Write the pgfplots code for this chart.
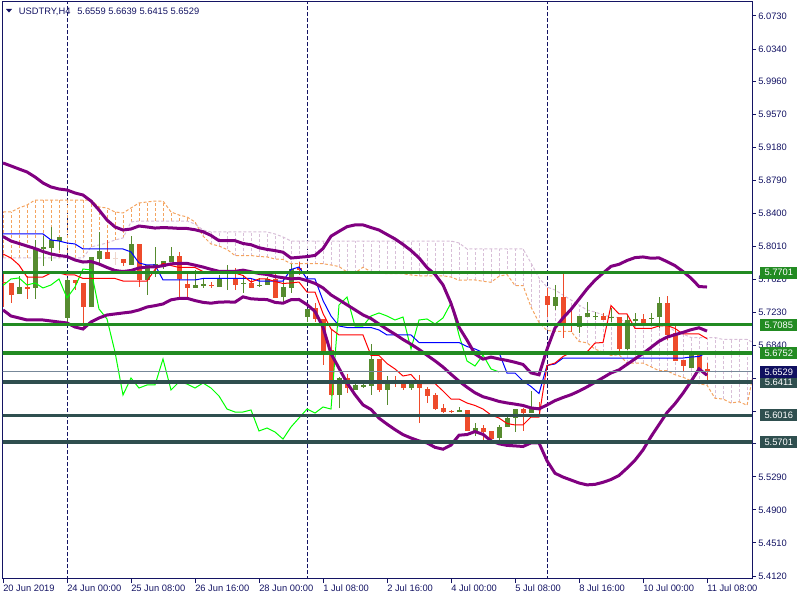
\documentclass[border=0pt]{standalone}
\usepackage{fontspec}
\setmainfont{Liberation Sans}
\usepackage{pgfplots}
\usepackage{pgfplotstable}
\pgfplotsset{compat=1.18}

\definecolor{axisC}{RGB}{20,20,100}
\definecolor{bullC}{RGB}{86,139,47}
\definecolor{bearC}{RGB}{238,75,43}
\definecolor{dojiC}{RGB}{238,214,204}
\definecolor{bbC}{RGB}{128,0,128}
\definecolor{chikouC}{RGB}{0,255,0}
\definecolor{sandyC}{RGB}{244,164,96}
\definecolor{thistleC}{RGB}{216,191,216}
\definecolor{fgreenC}{RGB}{34,139,34}
\definecolor{slateC}{RGB}{47,79,79}
\definecolor{plineC}{RGB}{119,136,153}
\definecolor{pboxC}{RGB}{16,16,96}

% H4 candles: bar index, k (1 up, -1 down, 0 doji), open high low close
\pgfplotstableread{
i k o h l c
0 -1 5.7590 5.7708 5.7295 5.7579
1 -1 5.7579 5.7579 5.7343 5.7437
2 1 5.7449 5.7661 5.7449 5.7531
3 -1 5.7531 5.7661 5.7390 5.7508
4 1 5.7520 5.8086 5.7390 5.7980
5 1 5.7980 5.8133 5.7779 5.8004
6 1 5.7992 5.8240 5.7838 5.8086
7 1 5.8074 5.8122 5.7968 5.8122
8 1 5.7166 5.7638 5.7107 5.7614
9 -1 5.7614 5.7614 5.7496 5.7579
10 -1 5.7579 5.7579 5.7024 5.7295
11 1 5.7295 5.7886 5.7295 5.7886
12 1 5.7862 5.8181 5.7779 5.7956
13 -1 5.7945 5.8086 5.7862 5.7862
14 0 5.7874 5.7945 5.7791 5.7870
15 -1 5.7862 5.7862 5.7779 5.7815
16 1 5.7791 5.8133 5.7791 5.8039
17 -1 5.8039 5.8039 5.7531 5.7614
18 1 5.7614 5.7791 5.7437 5.7791
19 1 5.7779 5.8004 5.7649 5.7803
20 1 5.7767 5.7838 5.7744 5.7838
21 1 5.7827 5.8004 5.7827 5.7897
22 -1 5.7897 5.7945 5.7390 5.7626
23 -1 5.7567 5.7685 5.7390 5.7520
24 1 5.7520 5.7732 5.7520 5.7555
25 1 5.7543 5.7626 5.7520 5.7567
26 -1 5.7555 5.7590 5.7520 5.7549
27 1 5.7531 5.7673 5.7531 5.7626
28 1 5.7626 5.7791 5.7496 5.7638
29 -1 5.7626 5.7756 5.7496 5.7555
30 1 5.7567 5.7673 5.7461 5.7579
31 -1 5.7579 5.7638 5.7520 5.7520
32 1 5.7543 5.7638 5.7531 5.7555
33 1 5.7555 5.7649 5.7555 5.7626
34 -1 5.7626 5.7697 5.7402 5.7402
35 1 5.7413 5.7638 5.7354 5.7531
36 1 5.7520 5.7803 5.7461 5.7744
37 -1 5.7756 5.7827 5.7673 5.7732
38 1 5.7177 5.7272 5.7118 5.7272
39 -1 5.7284 5.7343 5.7118 5.7154
40 -1 5.7154 5.7154 5.6611 5.6764
41 -1 5.6788 5.7024 5.6245 5.6257
42 1 5.6257 5.6469 5.6103 5.6457
43 -1 5.6457 5.6505 5.6280 5.6339
44 1 5.6316 5.6398 5.6316 5.6375
45 1 5.6351 5.6422 5.6339 5.6375
46 1 5.6363 5.6859 5.6257 5.6682
47 -1 5.6682 5.6682 5.6292 5.6316
48 1 5.6316 5.6481 5.6139 5.6410
49 -1 5.6422 5.6481 5.6351 5.6387
50 -1 5.6398 5.6398 5.6316 5.6339
51 1 5.6339 5.6410 5.6316 5.6398
52 -1 5.6398 5.6493 5.5926 5.6339
53 -1 5.6327 5.6351 5.6162 5.6245
54 -1 5.6257 5.6280 5.6080 5.6091
55 -1 5.6103 5.6150 5.6044 5.6056
56 -1 5.6068 5.6080 5.6044 5.6056
57 1 5.6056 5.6115 5.6056 5.6080
58 -1 5.6080 5.6080 5.5832 5.5832
59 1 5.5832 5.5926 5.5773 5.5867
60 -1 5.5867 5.5903 5.5690 5.5820
61 -1 5.5832 5.5832 5.5714 5.5737
62 1 5.5749 5.5903 5.5726 5.5879
63 1 5.5879 5.5997 5.5879 5.5985
64 1 5.5985 5.6091 5.5820 5.6091
65 -1 5.6091 5.6103 5.5832 5.6044
66 1 5.6044 5.6304 5.6044 5.6115
67 -1 5.6115 5.6174 5.6056 5.6091
68 -1 5.7425 5.7520 5.7177 5.7319
69 1 5.7307 5.7555 5.7260 5.7413
70 -1 5.7413 5.7697 5.6929 5.7071
71 -1 5.7095 5.7295 5.7000 5.7071
72 1 5.7059 5.7189 5.6988 5.7189
73 1 5.7177 5.7354 5.7177 5.7225
74 1 5.7177 5.7236 5.7142 5.7189
75 -1 5.7189 5.7225 5.7142 5.7142
76 1 5.7166 5.7284 5.7118 5.7177
77 -1 5.7177 5.7177 5.6729 5.6800
78 1 5.6800 5.7201 5.6788 5.7142
79 1 5.7130 5.7225 5.7083 5.7154
80 -1 5.7154 5.7213 5.7083 5.7095
81 1 5.7154 5.7225 5.7083 5.7166
82 1 5.7177 5.7413 5.7048 5.7343
83 -1 5.7343 5.7425 5.6906 5.6965
84 -1 5.6988 5.7095 5.6658 5.6658
85 -1 5.6670 5.6670 5.6528 5.6599
86 1 5.6575 5.6741 5.6575 5.6729
87 -1 5.6729 5.6764 5.6552 5.6564
88 -1 5.6559 5.6639 5.6415 5.6529
}\candles

% Bollinger bands (upper, middle, lower)
\pgfplotstableread{
i u m l
0 5.8995 5.8127 5.7260
1 5.8960 5.8074 5.7189
2 5.8924 5.8045 5.7166
3 5.8889 5.8015 5.7142
4 5.8830 5.7986 5.7142
5 5.8759 5.7950 5.7142
6 5.8712 5.7921 5.7130
7 5.8688 5.7903 5.7118
8 5.8676 5.7891 5.7107
9 5.8641 5.7850 5.7059
10 5.8617 5.7826 5.7036
11 5.8546 5.7832 5.7118
12 5.8440 5.7803 5.7166
13 5.8322 5.7762 5.7201
14 5.8240 5.7726 5.7213
15 5.8204 5.7714 5.7225
16 5.8216 5.7726 5.7236
17 5.8251 5.7756 5.7260
18 5.8240 5.7767 5.7295
19 5.8227 5.7769 5.7311
20 5.8233 5.7782 5.7331
21 5.8229 5.7805 5.7380
22 5.8223 5.7809 5.7396
23 5.8222 5.7810 5.7398
24 5.8207 5.7789 5.7371
25 5.8184 5.7767 5.7350
26 5.8140 5.7740 5.7340
27 5.8078 5.7716 5.7353
28 5.8078 5.7717 5.7355
29 5.8078 5.7716 5.7353
30 5.8045 5.7730 5.7415
31 5.8030 5.7711 5.7392
32 5.7995 5.7691 5.7386
33 5.7975 5.7679 5.7383
34 5.7961 5.7655 5.7350
35 5.7942 5.7641 5.7340
36 5.7873 5.7627 5.7381
37 5.7882 5.7633 5.7384
38 5.7890 5.7607 5.7324
39 5.7904 5.7574 5.7243
40 5.7985 5.7521 5.7057
41 5.8131 5.7438 5.6745
42 5.8188 5.7380 5.6573
43 5.8243 5.7321 5.6400
44 5.8264 5.7262 5.6260
45 5.8264 5.7202 5.6140
46 5.8233 5.7159 5.6086
47 5.8204 5.7094 5.5983
48 5.8151 5.7032 5.5913
49 5.8099 5.6974 5.5848
50 5.8034 5.6912 5.5789
51 5.7962 5.6856 5.5749
52 5.7875 5.6795 5.5715
53 5.7760 5.6726 5.5691
54 5.7681 5.6660 5.5639
55 5.7556 5.6587 5.5617
56 5.7339 5.6502 5.5665
57 5.7057 5.6420 5.5782
58 5.6905 5.6348 5.5790
59 5.6741 5.6283 5.5825
60 5.6680 5.6236 5.5792
61 5.6704 5.6210 5.5716
62 5.6682 5.6181 5.5681
63 5.6665 5.6163 5.5662
64 5.6643 5.6149 5.5656
65 5.6617 5.6133 5.5649
66 5.6518 5.6104 5.5691
67 5.6495 5.6093 5.5691
68 5.6797 5.6139 5.5480
69 5.7048 5.6190 5.5333
70 5.7166 5.6227 5.5288
71 5.7267 5.6260 5.5253
72 5.7387 5.6303 5.5218
73 5.7508 5.6352 5.5196
74 5.7612 5.6407 5.5202
75 5.7695 5.6461 5.5226
76 5.7775 5.6517 5.5259
77 5.7799 5.6553 5.5307
78 5.7844 5.6618 5.5393
79 5.7878 5.6683 5.5487
80 5.7886 5.6747 5.5608
81 5.7871 5.6818 5.5765
82 5.7875 5.6891 5.5907
83 5.7831 5.6940 5.6049
84 5.7783 5.6968 5.6154
85 5.7714 5.6996 5.6278
86 5.7636 5.7027 5.6417
87 5.7537 5.7050 5.6564
88 5.7531 5.7011 5.6490
}\bands

% Ichimoku: tenkan-sen, kijun-sen
\pgfplotstableread{
i t k
0 5.7921 5.8157
1 5.7874 5.8157
2 5.7791 5.8157
3 5.7649 5.8157
4 5.7649 5.8157
5 5.7649 5.8157
6 5.7697 5.8086
7 5.7697 5.8074
8 5.7673 5.8051
9 5.7673 5.8039
10 5.7632 5.7980
11 5.7632 5.7980
12 5.7632 5.7980
13 5.7632 5.7980
14 5.7632 5.7980
15 5.7602 5.7980
16 5.7602 5.7945
17 5.7602 5.7815
18 5.7602 5.7791
19 5.7738 5.7791
20 5.7809 5.7614
21 5.7785 5.7614
22 5.7762 5.7614
23 5.7762 5.7614
24 5.7762 5.7614
25 5.7714 5.7632
26 5.7697 5.7632
27 5.7697 5.7632
28 5.7697 5.7632
29 5.7697 5.7632
30 5.7667 5.7632
31 5.7590 5.7632
32 5.7626 5.7602
33 5.7626 5.7602
34 5.7596 5.7602
35 5.7573 5.7602
36 5.7579 5.7738
37 5.7590 5.7767
38 5.7472 5.7626
39 5.7472 5.7626
40 5.7219 5.7372
41 5.7036 5.7189
42 5.6965 5.7071
43 5.6965 5.7053
44 5.6965 5.7053
45 5.6965 5.7053
46 5.6723 5.7053
47 5.6723 5.7024
48 5.6628 5.6965
49 5.6564 5.6965
50 5.6481 5.6965
51 5.6499 5.6965
52 5.6392 5.6876
53 5.6392 5.6876
54 5.6392 5.6876
55 5.6304 5.6876
56 5.6209 5.6876
57 5.6209 5.6876
58 5.6162 5.6829
59 5.6133 5.6800
60 5.6091 5.6758
61 5.6021 5.6758
62 5.5985 5.6758
63 5.5920 5.6516
64 5.5903 5.6516
65 5.5903 5.6422
66 5.5997 5.6357
67 5.5997 5.6274
68 5.6605 5.6605
69 5.6634 5.6623
70 5.6711 5.6693
71 5.6758 5.6693
72 5.6758 5.6693
73 5.6764 5.6693
74 5.6870 5.6693
75 5.6876 5.6693
76 5.7313 5.6693
77 5.7213 5.6693
78 5.7213 5.6693
79 5.7042 5.6693
80 5.7042 5.6693
81 5.7042 5.6693
82 5.7071 5.6693
83 5.7077 5.6693
84 5.7042 5.6693
85 5.6977 5.6693
86 5.6977 5.6705
87 5.6977 5.6711
88 5.6921 5.6758
}\tk

% chikou span (close shifted 26 bars back)
\pgfplotstableread{
i ch
0 5.7549
1 5.7626
2 5.7638
3 5.7555
4 5.7579
5 5.7520
6 5.7555
7 5.7626
8 5.7402
9 5.7531
10 5.7744
11 5.7732
12 5.7272
13 5.7154
14 5.6764
15 5.6257
16 5.6457
17 5.6339
18 5.6375
19 5.6375
20 5.6682
21 5.6316
22 5.6410
23 5.6387
24 5.6339
25 5.6398
26 5.6339
27 5.6245
28 5.6091
29 5.6056
30 5.6056
31 5.6080
32 5.5832
33 5.5867
34 5.5820
35 5.5737
36 5.5879
37 5.5985
38 5.6091
39 5.6044
40 5.6115
41 5.6091
42 5.7319
43 5.7413
44 5.7071
45 5.7071
46 5.7189
47 5.7225
48 5.7189
49 5.7142
50 5.7177
51 5.6800
52 5.7142
53 5.7154
54 5.7095
55 5.7166
56 5.7343
57 5.6965
58 5.6658
59 5.6599
60 5.6729
61 5.6564
62 5.6529
}\chikou

% senkou span A and B
\pgfplotstableread{
i sa sb
0 5.8417 5.7874
1 5.8417 5.7874
2 5.8464 5.7874
3 5.8499 5.7874
4 5.8558 5.7874
5 5.8558 5.7874
6 5.8558 5.7874
7 5.8558 5.7874
8 5.8558 5.7874
9 5.8558 5.7874
10 5.8558 5.7874
11 5.8558 5.8004
12 5.8476 5.8027
13 5.8464 5.8051
14 5.8417 5.8086
15 5.8405 5.8110
16 5.8464 5.8299
17 5.8523 5.8310
18 5.8535 5.8310
19 5.8546 5.8310
20 5.8546 5.8310
21 5.8417 5.8310
22 5.8381 5.8310
23 5.8358 5.8310
24 5.8299 5.8275
25 5.8133 5.8204
26 5.8039 5.8181
27 5.8015 5.8181
28 5.7974 5.8181
29 5.7903 5.8181
30 5.7903 5.8181
31 5.7903 5.8181
32 5.7891 5.8181
33 5.7886 5.8181
34 5.7862 5.8157
35 5.7856 5.8122
36 5.7806 5.8074
37 5.7806 5.8074
38 5.7806 5.8074
39 5.7806 5.8074
40 5.7806 5.8074
41 5.7791 5.8074
42 5.7773 5.8074
43 5.7708 5.8074
44 5.7697 5.8074
45 5.7765 5.8074
46 5.7711 5.8074
47 5.7700 5.8074
48 5.7688 5.8074
49 5.7688 5.8074
50 5.7688 5.8074
51 5.7673 5.8074
52 5.7664 5.8074
53 5.7664 5.8074
54 5.7664 5.8074
55 5.7664 5.8074
56 5.7649 5.8074
57 5.7611 5.8051
58 5.7614 5.7980
59 5.7614 5.7980
60 5.7599 5.7980
61 5.7587 5.7980
62 5.7658 5.7980
63 5.7679 5.7980
64 5.7549 5.7980
65 5.7549 5.7980
66 5.7295 5.7815
67 5.7112 5.7638
68 5.7018 5.7531
69 5.7009 5.7496
70 5.7009 5.7437
71 5.7009 5.7378
72 5.6888 5.7319
73 5.6873 5.7260
74 5.6797 5.7236
75 5.6764 5.7201
76 5.6723 5.7177
77 5.6732 5.7171
78 5.6634 5.7083
79 5.6634 5.7083
80 5.6634 5.7083
81 5.6590 5.7083
82 5.6543 5.7083
83 5.6543 5.7083
84 5.6496 5.7006
85 5.6466 5.6977
86 5.6425 5.6935
87 5.6389 5.6935
88 5.6372 5.6935
89 5.6218 5.6935
90 5.6209 5.6912
91 5.6162 5.6912
92 5.6177 5.6912
93 5.6136 5.6912
94 5.6605 5.6865
}\cloud

\pgfplotsset{
  bars only/.style={draw=none, mark=none, error bars/.cd, y dir=plus, y explicit, error mark=none},
}

\begin{document}
\begin{tikzpicture}
\path[use as bounding box] (0,0) rectangle (600pt,450pt);
\begin{axis}[
    at={(1.875pt,15.75pt)}, anchor=south west,
    width=562.125pt, height=433.125pt, scale only axis,
    xmin=-0.0625, xmax=93.625, ymin=5.4085, ymax=6.0901,
    clip mode=individual,
    axis line style={axisC, line width=0.75pt},
    xtick pos=bottom, ytick pos=right, yticklabel pos=right,
    tick align=outside, major tick length=3pt,
    tick style={axisC, line width=0.75pt},
    xtick={0,8,...,88},
    xticklabels={20 Jun 2019,24 Jun 00:00,25 Jun 08:00,26 Jun 16:00,28 Jun 00:00,1 Jul 08:00,2 Jul 16:00,4 Jul 00:00,5 Jul 08:00,8 Jul 16:00,10 Jul 00:00,11 Jul 08:00},
    ytick={6.0730,6.0340,5.9960,5.9570,5.9180,5.8790,5.8400,5.8010,5.7620,5.7230,5.6840,5.6450,5.6060,5.5680,5.5290,5.4900,5.4510,5.4120},
    yticklabels={6.0730,6.0340,5.9960,5.9570,5.9180,5.8790,5.8400,5.8010,5.7620,5.7230,5.6840,,,,5.5290,5.4900,5.4510,5.4120},
    every tick label/.append style={font=\fontsize{7}{8}\selectfont, text=axisC},
    xticklabel style={anchor=north west, inner sep=0pt, yshift=-1pt},
    yticklabel style={anchor=west, inner sep=0pt, xshift=1.5pt},
]
% week separators
\addplot[axisC, line width=0.75pt, dash pattern=on 3pt off 1.5pt] coordinates {(8,5.40) (8,6.10)};
\addplot[axisC, line width=0.75pt, dash pattern=on 3pt off 1.5pt] coordinates {(38,5.40) (38,6.10)};
\addplot[axisC, line width=0.75pt, dash pattern=on 3pt off 1.5pt] coordinates {(68,5.40) (68,6.10)};

% cloud hatching
\addplot[bars only, error bar style={draw=thistleC, line width=0.75pt, dash pattern=on 2.25pt off 1.5pt}]
    table[x=i, y=sa, y error expr={max(\thisrow{sb}-\thisrow{sa},0)}] {\cloud};
\addplot[bars only, error bar style={draw=sandyC, line width=0.75pt, dash pattern=on 2.25pt off 1.5pt}]
    table[x=i, y=sb, y error expr={max(\thisrow{sa}-\thisrow{sb},0)}] {\cloud};
\addplot[sandyC, line width=0.75pt, dash pattern=on 2.25pt off 1.5pt] table[x=i, y=sa] {\cloud};
\addplot[thistleC, line width=0.75pt, dash pattern=on 2.25pt off 1.5pt] table[x=i, y=sb] {\cloud};

% candles: wicks then bodies
\addplot[restrict expr to domain={\thisrow{k}}{0.5:1.5}, bars only, error bar style={draw=bullC, line width=0.75pt}]
    table[x=i, y=l, y error expr={\thisrow{h}-\thisrow{l}}] {\candles};
\addplot[restrict expr to domain={\thisrow{k}}{0.5:1.5}, bars only, error bar style={draw=bullC, line width=3.75pt}]
    table[x=i, y expr={min(\thisrow{o},\thisrow{c})}, y error expr={max(abs(\thisrow{c}-\thisrow{o}),0.0009)}] {\candles};
\addplot[restrict expr to domain={\thisrow{k}}{-1.5:-0.5}, bars only, error bar style={draw=bearC, line width=0.75pt}]
    table[x=i, y=l, y error expr={\thisrow{h}-\thisrow{l}}] {\candles};
\addplot[restrict expr to domain={\thisrow{k}}{-1.5:-0.5}, bars only, error bar style={draw=bearC, line width=3.75pt}]
    table[x=i, y expr={min(\thisrow{o},\thisrow{c})}, y error expr={max(abs(\thisrow{c}-\thisrow{o}),0.0009)}] {\candles};
\addplot[restrict expr to domain={\thisrow{k}}{-0.5:0.5}, bars only, error bar style={draw=dojiC, line width=0.75pt}]
    table[x=i, y=l, y error expr={\thisrow{h}-\thisrow{l}}] {\candles};
\addplot[restrict expr to domain={\thisrow{k}}{-0.5:0.5}, bars only, error bar style={draw=dojiC, line width=3.75pt}]
    table[x=i, y expr={min(\thisrow{o},\thisrow{c})}, y error expr={max(abs(\thisrow{c}-\thisrow{o}),0.0009)}] {\candles};

% ichimoku lines
\addplot[chikouC, line width=0.75pt] table[x=i, y=ch] {\chikou};
\addplot[blue, line width=0.75pt] table[x=i, y=k] {\tk};
\addplot[red, line width=0.75pt] table[x=i, y=t] {\tk};

% bollinger bands
\addplot[bbC, line width=2.25pt] table[x=i, y=u] {\bands};
\addplot[bbC, line width=2.25pt] table[x=i, y=m] {\bands};
\addplot[bbC, line width=2.25pt] table[x=i, y=l] {\bands};

% horizontal levels
\addplot[plineC, line width=0.75pt] coordinates {(-1,5.6529) (95,5.6529)};
\addplot[fgreenC, line width=2.5pt] coordinates {(-1,5.7701) (95,5.7701)};
\addplot[fgreenC, line width=2.5pt] coordinates {(-1,5.7085) (95,5.7085)};
\addplot[fgreenC, line width=2.5pt] coordinates {(-1,5.6752) (95,5.6752)};
\addplot[slateC, line width=2.4pt] coordinates {(-1,5.6411) (95,5.6411)};
\addplot[slateC, line width=2.4pt] coordinates {(-1,5.6016) (95,5.6016)};
\addplot[slateC, line width=2.4pt] coordinates {(-1,5.5701) (95,5.5701)};

\coordinate (g1) at (axis cs:93.625,5.7701);
\coordinate (g2) at (axis cs:93.625,5.7085);
\coordinate (g3) at (axis cs:93.625,5.6752);
\coordinate (pp) at (axis cs:93.625,5.6529);
\coordinate (s1) at (axis cs:93.625,5.6411);
\coordinate (s2) at (axis cs:93.625,5.6016);
\coordinate (s3) at (axis cs:93.625,5.5701);
\end{axis}

\tikzset{lbl/.style={anchor=west, inner sep=0pt, minimum width=27.75pt, minimum height=9pt,
    text=white, font=\fontsize{7}{8}\selectfont}}
\node[lbl, fill=fgreenC] at ([xshift=6pt]g1) {5.7701};
\node[lbl, fill=fgreenC] at ([xshift=6pt]g2) {5.7085};
\node[lbl, fill=fgreenC] at ([xshift=6pt]g3) {5.6752};
\node[lbl, fill=slateC] at ([xshift=6pt]s1) {5.6411};
\node[lbl, fill=slateC] at ([xshift=6pt]s2) {5.6016};
\node[lbl, fill=slateC] at ([xshift=6pt]s3) {5.5701};
\node[lbl, fill=pboxC] at ([xshift=6pt]pp) {5.6529};

% title
\fill[axisC] (4.5pt,443.25pt) -- (9pt,443.25pt) -- (6.75pt,440.6pt) -- cycle;
\node[anchor=base west, inner sep=0pt, text=axisC, font=\fontsize{7}{8}\selectfont] at (14pt,439.1pt) {USDTRY,H4};
\node[anchor=base west, inner sep=0pt, text=axisC, font=\fontsize{7}{8}\selectfont] at (57.75pt,439.1pt) {5.6559 5.6639 5.6415 5.6529};
\end{tikzpicture}
\end{document}
